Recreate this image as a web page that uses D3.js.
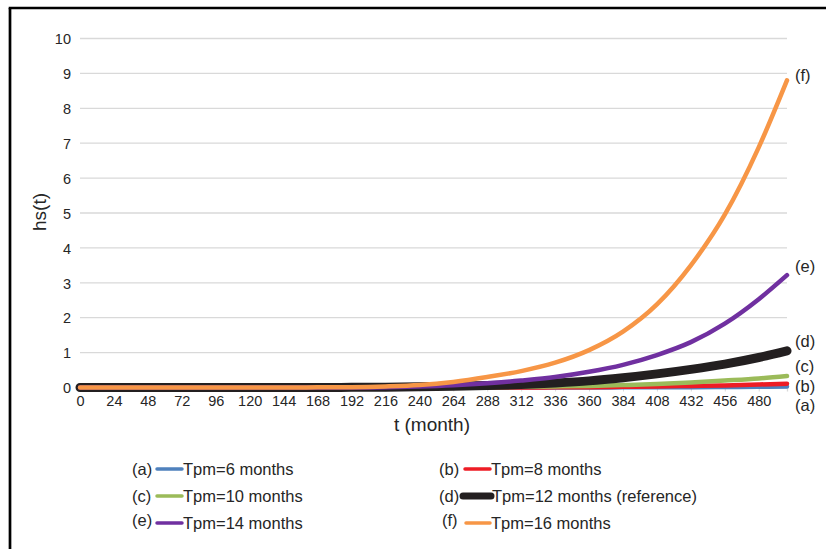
<!DOCTYPE html>
<html><head><meta charset="utf-8">
<script src="https://cdn.jsdelivr.net/npm/d3@7"></script>
<style>html,body{margin:0;padding:0;background:#fff;}svg{display:block;font-family:"Liberation Sans",Arial,sans-serif;}</style>
</head><body><svg id="c" width="826" height="549"></svg>
<script>
const months = [0,24,48,72,96,120,144,168,192,216,240,264,288,312,336,360,384,408,432,456,480,500];
const xTicks = [0,24,48,72,96,120,144,168,192,216,240,264,288,312,336,360,384,408,432,456,480];
const yTicks = [0,1,2,3,4,5,6,7,8,9,10];
const seriesA = [0,0,0,0,0,0,0,0,0,0,0,0,0,0,0,0,0.005,0.008,0.01,0.015,0.02,0.03];
const seriesB = [0,0,0,0,0,0,0,0,0,0,0,0,0,0,0.005,0.01,0.02,0.03,0.045,0.06,0.085,0.11];
const seriesC = [0,0,0,0,0,0,0,0,0,0,0,0.005,0.01,0.018,0.03,0.045,0.07,0.10,0.145,0.2,0.26,0.33];
const seriesD = [0,0,0,0,0,0,0,0,0.005,0.01,0.02,0.035,0.055,0.085,0.13,0.19,0.28,0.39,0.52,0.67,0.86,1.05];
const seriesE = [0,0,0,0,0,0,0,0,0,0.01,0.03,0.065,0.12,0.2,0.3,0.45,0.65,0.93,1.3,1.83,2.53,3.22];
const seriesF = [0,0,0,0,0,0,0,0.005,0.01,0.03,0.07,0.16,0.3,0.47,0.71,1.07,1.6,2.38,3.5,4.95,6.88,8.8];
const seriesNames = ["Tpm=6 months","Tpm=8 months","Tpm=10 months","Tpm=12 months (reference)","Tpm=14 months","Tpm=16 months"];
const seriesTags = ["(a)","(b)","(c)","(d)","(e)","(f)"];
const seriesColors = ["#4f81bd","#ee1c25","#9bbb59","#231f20","#7030a0","#f79646"];
const seriesWidths = [4.5,4.5,4.5,9,4.5,4.5];
const allSeries = [seriesA,seriesB,seriesC,seriesD,seriesE,seriesF];

const svg = d3.select("#c");
const x = d3.scaleLinear().domain([0,500]).range([80,787]);
const y = d3.scaleLinear().domain([0,10]).range([387.5,38.5]);
const textCol = "#262626";

// frame (left & top edges)
svg.append("line").attr("x1",10).attr("x2",10).attr("y1",8).attr("y2",549).attr("stroke","#000").attr("stroke-width",2.7);
svg.append("line").attr("x1",8.7).attr("x2",826).attr("y1",8).attr("y2",8).attr("stroke","#000").attr("stroke-width",2.7);

// gridlines
svg.append("g").selectAll("line").data(yTicks).join("line")
  .attr("x1",80).attr("x2",787).attr("y1",d=>y(d)).attr("y2",d=>y(d))
  .attr("stroke","#d9d9d9").attr("stroke-width",1.3);

// y axis labels
const yAxis = d3.axisLeft(y).tickValues(yTicks).tickSize(0).tickPadding(0);
const gy = svg.append("g").attr("transform","translate(71,0)").call(yAxis);
gy.select(".domain").remove();
gy.selectAll("text").attr("font-size",14.5).attr("fill",textCol).attr("font-family","Liberation Sans, Arial, sans-serif").attr("dy","0.36em");

// x axis
const xAxis = d3.axisBottom(x).tickValues(xTicks).tickSize(4).tickPadding(6).tickFormat(d3.format("d"));
const gx = svg.append("g").attr("transform","translate(0,387.5)").call(xAxis);
gx.select(".domain").attr("stroke","#d9d9d9").attr("stroke-width",1.3);
gx.selectAll(".tick line").attr("stroke","#d9d9d9");
gx.selectAll("text").attr("font-size",14.5).attr("fill",textCol).attr("font-family","Liberation Sans, Arial, sans-serif").attr("dy","0.6em");

// axis titles
svg.append("text").attr("x",432).attr("y",431).attr("text-anchor","middle").attr("font-size",19).attr("fill",textCol).text("t (month)");
svg.append("text").attr("transform","translate(46,212) rotate(-90)").attr("text-anchor","middle").attr("font-size",19).attr("fill",textCol).text("hs(t)");

// lines
const line = d3.line().x((d,i)=>x(months[i])).y(d=>y(d)).curve(d3.curveMonotoneX);
svg.append("g").selectAll("path").data(allSeries).join("path")
  .attr("d",d=>line(d)).attr("fill","none")
  .attr("stroke",(d,i)=>seriesColors[i]).attr("stroke-width",(d,i)=>seriesWidths[i])
  .attr("stroke-linejoin","round").attr("stroke-linecap","round");

// end labels
const endLabelY = [405,386.5,366.7,341.7,266.7,75];
svg.append("g").selectAll("text").data(seriesTags).join("text")
  .attr("x",795).attr("y",(d,i)=>endLabelY[i]).attr("dy","0.35em")
  .attr("font-size",16.5).attr("fill",textCol).text(d=>d);

// legend
const legX = [132,439,132,439,132,442];
const legY = [469,469,496,496,520,520];
const lineX = [157,465,157,463,157,466];
const lineX2 = [182,490,182,491,182,490];
const txtX = [183,491,183,492,183,491];
const legTxtY = [469,469,496,496,523,523];
const lg = svg.append("g");
seriesNames.forEach((n,i)=>{
  lg.append("text").attr("x",legX[i]).attr("y",legY[i]).attr("dy","0.35em").attr("font-size",16.5).attr("fill",textCol).text(seriesTags[i]);
  lg.append("line").attr("x1",lineX[i]).attr("x2",lineX2[i]).attr("y1",legTxtY[i]).attr("y2",legTxtY[i])
    .attr("stroke",seriesColors[i]).attr("stroke-width",i===3?7:3.5).attr("stroke-linecap","round");
  lg.append("text").attr("x",txtX[i]).attr("y",legTxtY[i]).attr("dy","0.35em").attr("font-size",16.5).attr("fill",textCol).text(n);
});
</script></body></html>
